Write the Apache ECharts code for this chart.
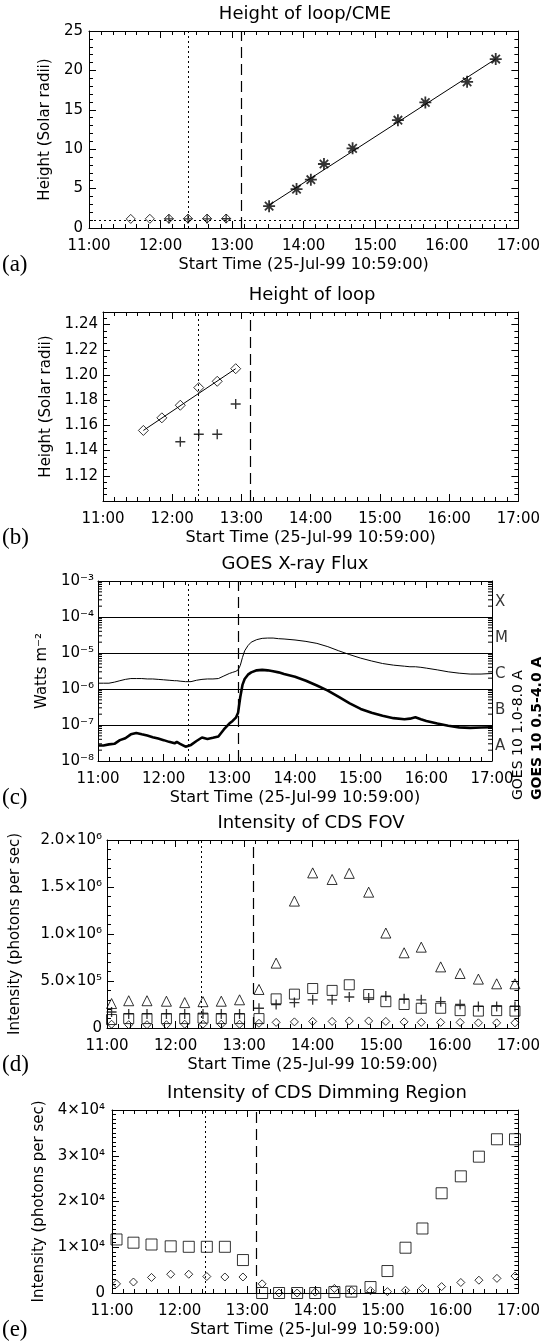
<!DOCTYPE html>
<html>
<head>
<meta charset="utf-8">
<script src="https://cdn.jsdelivr.net/npm/echarts@6/dist/echarts.min.js"></script>
<style>html,body{margin:0;padding:0;background:#fff}#c{width:543px;height:1342px}</style>
</head>
<body>
<div id="c"></div>
<script>
// ================= DATA =================
const xTickLabels = ['11:00','12:00','13:00','14:00','15:00','16:00','17:00'];
const xAxisName = 'Start Time (25-Jul-99 10:59:00)';
const eventTimes = ['12:23','13:08'];          // dotted, dashed
const panelTags = ['(a)','(b)','(c)','(d)','(e)'];
const panelTitles = ['Height of loop/CME','Height of loop','GOES X-ray Flux','Intensity of CDS FOV','Intensity of CDS Dimming Region'];

// (a)/(b) loop heights
const loopTimes   = ['11:35','11:51','12:07','12:23','12:39','12:55'];
const loopHeights = [1.156,1.166,1.176,1.190,1.195,1.205];
const loopFitTimes   = ['11:35','12:55'];
const loopFitHeights = [1.156,1.205];
const footTimes   = ['12:07','12:23','12:39','12:55'];
const footHeights = [1.147,1.153,1.153,1.177];
// (a) CME heights
const cmeTimes   = ['13:31','13:54','14:06','14:17','14:41','15:19','15:42','16:17','16:41'];
const cmeHeights = [2.77,4.94,6.13,8.12,10.11,13.68,15.93,18.55,21.44];
const cmeFitTimes   = ['13:31','16:41'];
const cmeFitHeights = [2.9,21.45];
const limbHeight = 1;

// (c) GOES
const goesTimes = ['11:00','11:05','11:10','11:15','11:20','11:25','11:30','11:35','11:40','11:45','11:50','11:55',
  '12:00','12:05','12:10','12:12','12:15','12:20','12:25','12:30','12:35','12:40','12:45','12:50','12:55',
  '13:00','13:03','13:06','13:08','13:10','13:12','13:14','13:17','13:20','13:25','13:30','13:35','13:40','13:45','13:50',
  '14:00','14:10','14:20','14:30','14:40','14:50','15:00','15:10','15:20','15:30','15:40','15:45','15:50','15:55',
  '16:00','16:10','16:20','16:30','16:40','16:50','17:00'];
const goesLong = [1.45e-6,1.45e-6,1.45e-6,1.55e-6,1.7e-6,1.85e-6,1.95e-6,1.95e-6,1.95e-6,1.9e-6,1.9e-6,1.85e-6,
  1.8e-6,1.75e-6,1.7e-6,1.7e-6,1.65e-6,1.6e-6,1.6e-6,1.75e-6,1.85e-6,1.9e-6,1.9e-6,1.95e-6,2.3e-6,
  2.7e-6,2.9e-6,3.1e-6,3.4e-6,4.5e-6,7.5e-6,1.15e-5,1.6e-5,2.0e-5,2.35e-5,2.55e-5,2.6e-5,2.6e-5,2.5e-5,2.45e-5,
  2.3e-5,2.1e-5,1.85e-5,1.5e-5,1.15e-5,9.0e-6,7.2e-6,6.0e-6,5.1e-6,4.6e-6,4.3e-6,4.15e-6,4.15e-6,4.0e-6,
  3.8e-6,3.4e-6,3.0e-6,2.75e-6,2.6e-6,2.6e-6,2.7e-6];
const goesShort = [2.7e-8,2.7e-8,2.9e-8,3.0e-8,3.8e-8,4.3e-8,5.5e-8,6.0e-8,5.5e-8,5.1e-8,4.6e-8,4.2e-8,
  3.8e-8,3.4e-8,3.1e-8,3.4e-8,3.0e-8,2.5e-8,2.8e-8,3.6e-8,4.5e-8,4.1e-8,4.4e-8,4.8e-8,7.5e-8,
  1.1e-7,1.3e-7,1.6e-7,2.2e-7,6.0e-7,1.3e-6,1.9e-6,2.5e-6,2.9e-6,3.3e-6,3.4e-6,3.3e-6,3.1e-6,2.9e-6,2.6e-6,
  2.2e-6,1.7e-6,1.25e-6,9.0e-7,6.0e-7,4.0e-7,2.8e-7,2.2e-7,1.8e-7,1.55e-7,1.45e-7,1.5e-7,1.65e-7,1.45e-7,
  1.3e-7,1.1e-7,9.5e-8,8.6e-8,8.3e-8,8.5e-8,8.7e-8];
const goesClasses = ['A','B','C','M','X'];
const goesLegend = ['GOES 10 1.0-8.0 A','GOES 10 0.5-4.0 A'];

// (d)/(e) CDS rasters
const cdsTimes = ['11:04','11:19','11:35','11:52','12:08','12:24','12:40','12:56','13:13','13:28','13:44','14:00',
  '14:17','14:32','14:49','15:04','15:20','15:35','15:52','16:09','16:25','16:41','16:57'];
const fovTriangle = [2.6e5,2.9e5,2.9e5,2.85e5,2.7e5,2.8e5,2.85e5,3.0e5,4.1e5,6.9e5,1.35e6,1.65e6,
  1.58e6,1.645e6,1.445e6,1.01e6,8.0e5,8.6e5,6.5e5,5.8e5,5.2e5,4.7e5,4.7e5];
const fovSquare = [9e4,1.0e5,1.0e5,1.0e5,1.0e5,1.05e5,1.0e5,1.0e5,1.0e5,3.1e5,3.6e5,4.2e5,
  4.0e5,4.6e5,3.56e5,2.8e5,2.5e5,2.1e5,2.1e5,1.85e5,1.8e5,1.85e5,1.8e5];
const fovPlus = [1.7e5,1.5e5,1.5e5,1.5e5,1.5e5,1.5e5,1.5e5,1.5e5,2.1e5,2.5e5,2.7e5,3.0e5,
  3.0e5,3.3e5,3.2e5,3.4e5,3.1e5,3.0e5,2.8e5,2.5e5,2.3e5,2.3e5,2.3e5];
const fovDiamond = [4e4,3.5e4,3.5e4,3.5e4,4e4,4e4,4e4,4e4,5e4,6e4,6.5e4,7e4,
  7e4,7.5e4,7.5e4,7e4,6.5e4,6e4,6e4,6e4,5.5e4,5.5e4,5.5e4];
const dimSquare = [1.17e4,1.10e4,1.06e4,1.02e4,1.01e4,1.01e4,1.01e4,7.2e3,0,0,0,0,
  200,300,1.3e3,4.8e3,9.9e3,1.41e4,2.18e4,2.55e4,2.98e4,3.36e4,3.36e4];
const dimDiamond = [2.0e3,2.4e3,3.4e3,4.1e3,4.1e3,3.6e3,3.5e3,3.5e3,2.0e3,0,0,200,
  1.0e3,500,500,300,600,1.0e3,1.4e3,2.3e3,2.8e3,3.2e3,3.7e3];

// ================= HELPERS =================
const FONT = 'DejaVu Sans';
const SUP = {'-':'\u207B','0':'\u2070','1':'\u00B9','2':'\u00B2','3':'\u00B3','4':'\u2074','5':'\u2075','6':'\u2076','7':'\u2077','8':'\u2078','9':'\u2079'};
const sup = s => String(s).split('').map(c => SUP[c]).join('');
const hr = s => { const p = s.split(':').map(Number); return p[0] + p[1] / 60; };
const pts = (ts, vs) => ts.map((t, i) => [hr(t), vs[i]]);
const sciLabel = digits => v => {
  if (v === 0) return '0';
  const e = Math.floor(Math.log10(v) + 1e-9);
  return (v / Math.pow(10, e)).toFixed(digits) + '\u00D710' + sup(e);
};
const BLACK = '#000';
const tStyle = () => ({color: BLACK, width: 1});
const majorTick = () => ({show: true, inside: true, length: 7, lineStyle: tStyle()});
const minorTickCfg = n => ({show: true, splitNumber: n, length: 4, lineStyle: tStyle()});
const frameLine = () => ({show: true, onZero: false, lineStyle: {color: BLACK, width: 1}});

const PLUS = 'path://M0,5L10,5M5,0L5,10';
const STAR = 'path://M5,0L5,10M0,5L10,5M1.5,1.5L8.5,8.5M1.5,8.5L8.5,1.5';
const hollow = () => ({color: 'transparent', borderColor: BLACK, borderWidth: 1});
const stroked = w => ({color: 'transparent', borderColor: BLACK, borderWidth: w});

// layout boxes [left, top, width, height] (whole pixels)
const boxes = [
  [89, 31, 432, 197],
  [103, 312, 418, 189],
  [98, 581, 394, 180],
  [103, 840, 416, 188],
  [112, 1110, 410, 183]
];

const grids = [], xAxes = [], yAxes = [], series = [], titles = [], graphics = [];

function xAxis(gi, bottom) {
  return {
    type: 'value', gridIndex: gi, position: bottom ? 'bottom' : 'top',
    min: 11, max: 17, interval: 1,
    axisLine: frameLine(),
    axisTick: majorTick(),
    minorTick: minorTickCfg(6),
    splitLine: {show: false},
    axisLabel: {show: bottom, margin: 11, color: BLACK, fontFamily: FONT, fontSize: 15,
      formatter: v => xTickLabels[Math.round(v - 11)]},
    name: bottom ? xAxisName : '', nameLocation: 'middle', nameGap: 29,
    nameTextStyle: {color: BLACK, fontFamily: FONT, fontSize: 16}
  };
}

function yAxis(gi, yCfg, left) {
  const a = {
    type: yCfg.type || 'value', gridIndex: gi, min: yCfg.min, max: yCfg.max,
    position: left ? 'left' : 'right',
    axisLine: frameLine(),
    axisTick: majorTick(),
    minorTick: yCfg.minor ? minorTickCfg(yCfg.minor) : {show: false},
    splitLine: (left && yCfg.gridLines) ? {show: true, lineStyle: {color: BLACK, width: 1}} : {show: false}
  };
  if (yCfg.interval) a.interval = yCfg.interval;
  if (left) {
    a.axisLabel = {color: BLACK, fontFamily: FONT, fontSize: 15, margin: yCfg.labelMargin || 5, formatter: yCfg.formatter};
    a.name = yCfg.name; a.nameLocation = 'middle'; a.nameGap = yCfg.nameGap;
    a.nameTextStyle = {color: BLACK, fontFamily: FONT, fontSize: 15};
  } else {
    a.axisLabel = {show: false};
  }
  return a;
}

function panel(i, yCfg) {
  const b = boxes[i];
  const gi = grids.length;
  grids.push({left: b[0], top: b[1], width: b[2], height: b[3]});
  const xi = xAxes.length;
  xAxes.push(xAxis(gi, true), xAxis(gi, false));
  const yi = yAxes.length;
  yAxes.push(yAxis(gi, yCfg, true), yAxis(gi, yCfg, false));
  titles.push({
    text: panelTitles[i], left: Math.round(b[0] + b[2] / 2), top: b[1] - 26, textAlign: 'center', padding: 0,
    textStyle: {color: BLACK, fontFamily: FONT, fontSize: 18, fontWeight: 'normal'}
  });
  graphics.push({
    type: 'text', left: 2, top: b[1] + b[3] + 25,
    style: {text: panelTags[i], font: '23px "Liberation Serif"', fill: BLACK}
  });
  return {gi, xi, yi};
}

function eventMarks(extra) {
  return {
    silent: true, symbol: 'none', animation: false, label: {show: false},
    data: [
      {xAxis: hr(eventTimes[0]), lineStyle: {type: [2, 3], color: BLACK, width: 1}},
      {xAxis: hr(eventTimes[1]), lineStyle: {type: [11, 6], color: BLACK, width: 1.2}}
    ].concat(extra || [])
  };
}

function scatter(p, data, symbol, size, style) {
  return {type: 'scatter', xAxisIndex: p.xi, yAxisIndex: p.yi, data: data, symbol: symbol,
    symbolSize: size, itemStyle: style, silent: true, animation: false};
}
function line(p, data, width) {
  return {type: 'line', xAxisIndex: p.xi, yAxisIndex: p.yi, data: data, showSymbol: false, symbol: 'none',
    lineStyle: {color: BLACK, width: width}, silent: true, animation: false};
}

// ---- (a) ----
const pa = panel(0, {min: 0, max: 25, interval: 5, minor: 5, name: 'Height (Solar radii)', nameGap: 34, labelMargin: 6,
  formatter: v => String(v)});
const sa = scatter(pa, pts(loopTimes, loopHeights), 'diamond', 9, hollow());
sa.markLine = eventMarks([{yAxis: limbHeight, lineStyle: {type: [2, 3], color: BLACK, width: 1}}]);
series.push(sa,
  scatter(pa, pts(footTimes, footHeights), PLUS, 9, stroked(1.3)),
  line(pa, pts(cmeFitTimes, cmeFitHeights), 1),
  scatter(pa, pts(cmeTimes, cmeHeights), STAR, 12, stroked(1.8)));

// ---- (b) ----
const pb = panel(1, {min: 1.10, max: 1.25, interval: 0.02, minor: 4, name: 'Height (Solar radii)', nameGap: 49,
  formatter: v => (Math.abs(v - 1.10) < 1e-6 ? '' : v.toFixed(2))});
const sb = scatter(pb, pts(loopTimes, loopHeights), 'diamond', 10, hollow());
sb.markLine = eventMarks();
series.push(sb,
  line(pb, pts(loopFitTimes, loopFitHeights), 1),
  scatter(pb, pts(footTimes, footHeights), PLUS, 10, stroked(1.4)));

// ---- (c) ----
const logMinor = [];
for (let e = -8; e < -3; e++) for (let m = 2; m <= 9; m++) logMinor.push(m * Math.pow(10, e));
const pc = panel(2, {type: 'log', min: 1e-8, max: 1e-3, name: 'Watts m' + sup(-2), nameGap: 44, labelMargin: 4,
  gridLines: true,
  formatter: v => '10' + sup(Math.round(Math.log10(v)))});
const lc = line(pc, pts(goesTimes, goesLong), 1);
lc.markLine = eventMarks();
series.push(lc, line(pc, pts(goesTimes, goesShort), 2.6));
// minor log ticks on both frame sides, placed through the axis scale
series.push({
  type: 'custom', xAxisIndex: pc.xi, yAxisIndex: pc.yi, silent: true, clip: false, animation: false,
  data: logMinor.map(v => [11, v]),
  renderItem: (params, api) => {
    const v = api.value(1);
    const l = api.coord([11, v]), r = api.coord([17, v]);
    return {type: 'group', children: [
      {type: 'line', shape: {x1: l[0], y1: l[1], x2: l[0] + 4, y2: l[1]}, style: {stroke: BLACK, lineWidth: 1}},
      {type: 'line', shape: {x1: r[0], y1: r[1], x2: r[0] - 4, y2: r[1]}, style: {stroke: BLACK, lineWidth: 1}}
    ]};
  }
});
// GOES class letters on the right
series.push({
  type: 'scatter', xAxisIndex: pc.xi, yAxisIndex: pc.yi, silent: true, clip: false, animation: false,
  symbolSize: 0,
  data: goesClasses.map((c, k) => [17, 2.6 * Math.pow(10, -8 + k)]),
  label: {show: true, position: 'right', distance: 3, color: BLACK, fontFamily: FONT, fontSize: 15,
    formatter: p => goesClasses[p.dataIndex]}
});
const gx = boxes[2][0] + boxes[2][2];
graphics.push(
  {type: 'text', x: gx + 26, y: 800, rotation: Math.PI / 2,
    style: {text: goesLegend[0], x: 0, y: 0, font: '14px "DejaVu Sans"', fill: BLACK,
      textAlign: 'left', textVerticalAlign: 'middle', align: 'left', verticalAlign: 'middle'}},
  {type: 'text', x: gx + 45, y: 800, rotation: Math.PI / 2,
    style: {text: goesLegend[1], x: 0, y: 0, font: 'bold 14px "DejaVu Sans"', fill: BLACK,
      textAlign: 'left', textVerticalAlign: 'middle', align: 'left', verticalAlign: 'middle'}}
);

// ---- (d) ----
const pd = panel(3, {min: 0, max: 2e6, interval: 5e5, minor: 5, name: 'Intensity (photons per sec)', nameGap: 84,
  formatter: sciLabel(1)});
const sd = scatter(pd, pts(cdsTimes, fovTriangle), 'triangle', 10, hollow());
sd.markLine = eventMarks();
series.push(sd,
  scatter(pd, pts(cdsTimes, fovSquare), 'rect', 10, hollow()),
  scatter(pd, pts(cdsTimes, fovPlus), PLUS, 10, stroked(1.3)),
  scatter(pd, pts(cdsTimes, fovDiamond), 'diamond', 8, hollow()));

// ---- (e) ----
const pe = panel(4, {min: 0, max: 4e4, interval: 1e4, minor: 10, name: 'Intensity (photons per sec)', nameGap: 60,
  labelMargin: 7, formatter: sciLabel(0)});
const se = scatter(pe, pts(cdsTimes, dimSquare), 'rect', 11, hollow());
se.markLine = eventMarks();
series.push(se, scatter(pe, pts(cdsTimes, dimDiamond), 'diamond', 8, hollow()));

const chart = echarts.init(document.getElementById('c'), null, {renderer: 'canvas'});
chart.setOption({
  animation: false,
  backgroundColor: '#fff',
  title: titles,
  grid: grids,
  xAxis: xAxes,
  yAxis: yAxes,
  series: series,
  graphic: graphics
});
</script>
</body>
</html>
